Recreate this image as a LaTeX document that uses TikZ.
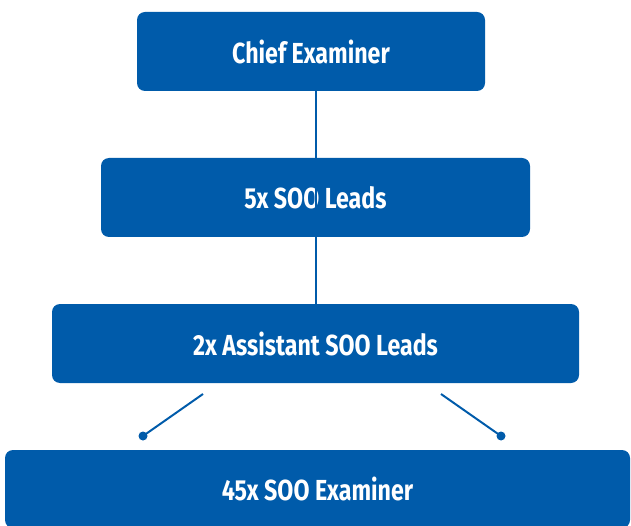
\documentclass[tikz,border=0pt]{standalone}
\usepackage{fontspec}
\setmainfont{Fira Sans}[FakeStretch=0.8]
\usepackage{xcolor}
\usetikzlibrary{calc}
\definecolor{soablue}{RGB}{0,91,170}

\begin{document}
\begin{tikzpicture}[x=1pt,y=-1pt,
    rolebox/.style={fill=soablue, rounded corners=8pt, inner sep=0pt,
      text=white, font=\fontsize{29}{32}\selectfont\bfseries},
    link/.style={draw=soablue, line width=2pt}]
  \useasboundingbox (0,0) rectangle (631,526);

  % Boxes of the hierarchy
  \node[rolebox, minimum width=348pt, minimum height=79pt] (chief) at (311,51.5) {Chief Examiner};
  \node[rolebox, minimum width=429pt, minimum height=79pt] (leads) at (315.5,197.5) {5x SOO Leads};
  \node[rolebox, minimum width=527pt, minimum height=79pt] (asst) at (315.5,343.5) {2x Assistant SOO Leads};
  \begin{scope}
    \clip (0,0) rectangle (631,526);
    \node[rolebox, minimum width=625pt, minimum height=78pt] (exam) at (317.5,489) {45x SOO Examiner};
  \end{scope}

  % Vertical link drawn on top of the middle box
  \draw[link] (asst.north -| leads.north) -- (chief.south -| leads.north);

  % Branches towards the examiners
  \coordinate (brL) at (203,394);
  \coordinate (brR) at (441,394);
  \coordinate (dotL) at (143,436);
  \coordinate (dotR) at (501,436);
  \draw[link] (brL) -- (dotL);
  \draw[link] (brR) -- (dotR);
  \fill[soablue] (dotL) circle (4.5pt);
  \fill[soablue] (dotR) circle (4.5pt);

\end{tikzpicture}
\end{document}
